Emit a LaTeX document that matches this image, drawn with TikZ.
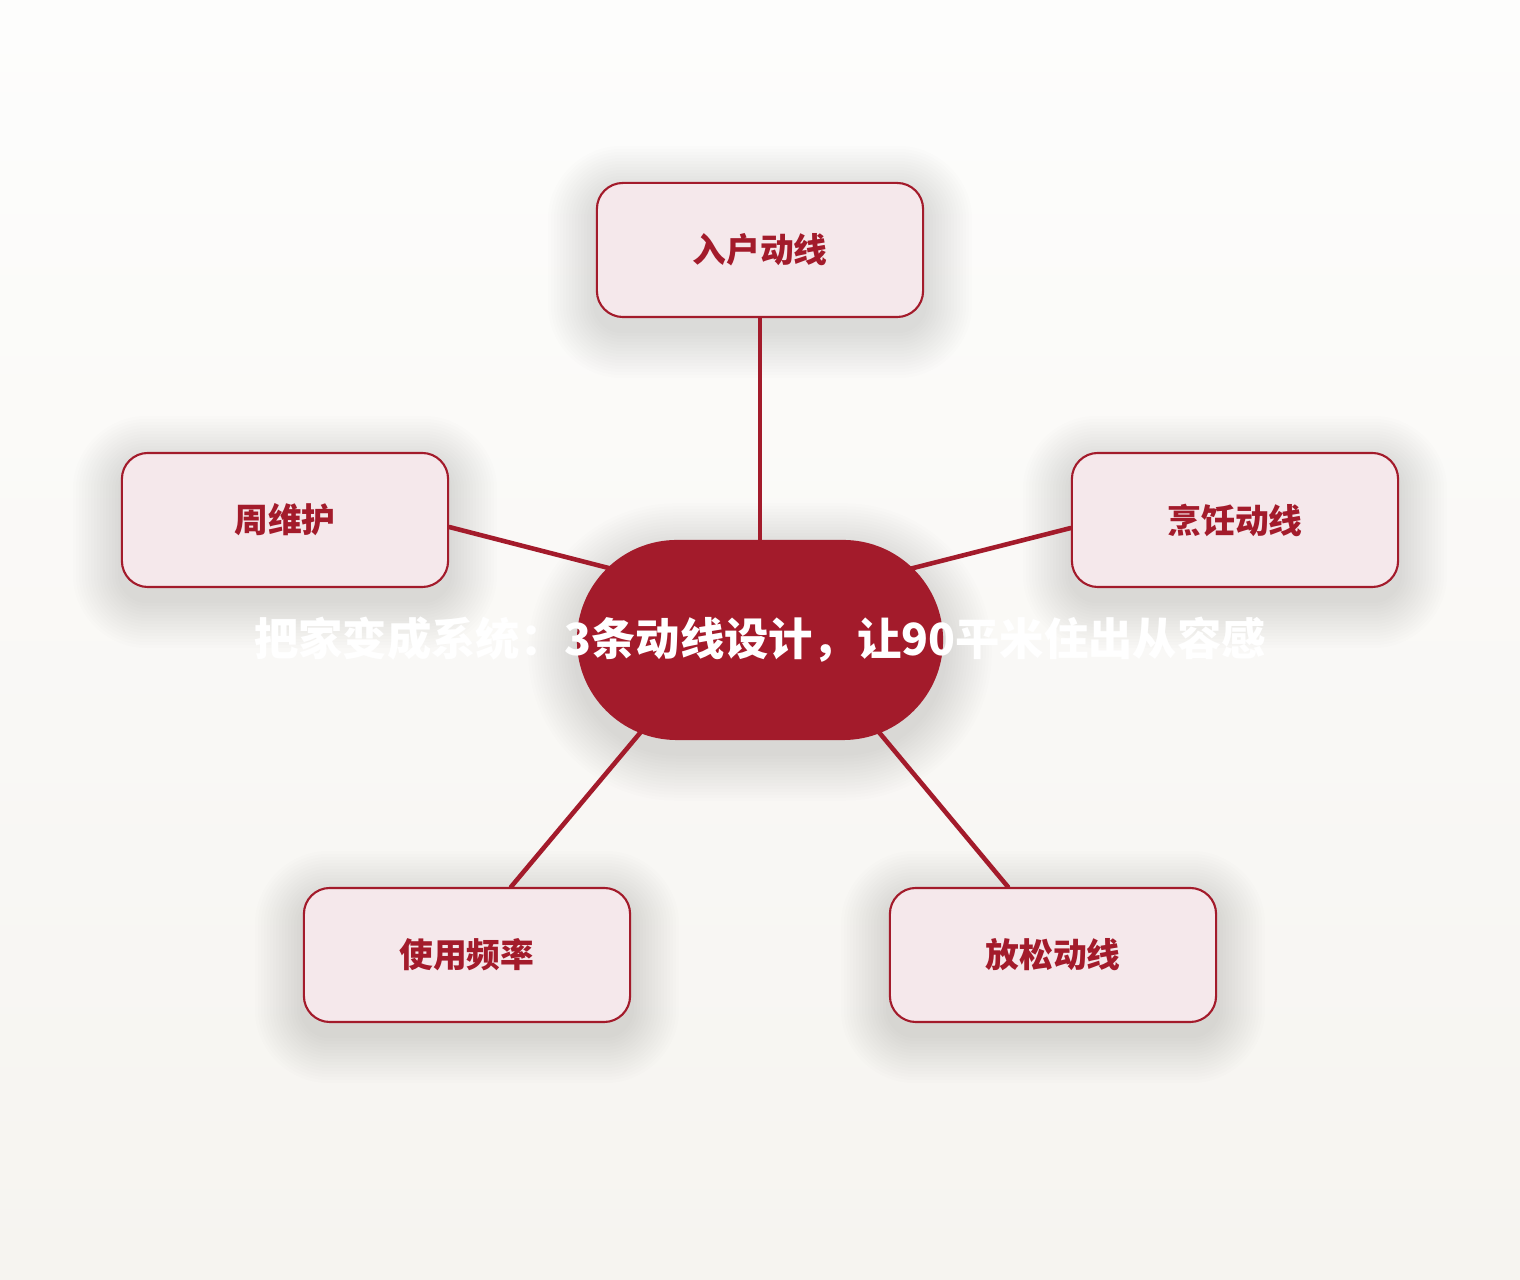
\documentclass[tikz,border=0pt]{standalone}
\usepackage{fontspec}
\newfontfamily\cjk{Noto Sans CJK SC}
\definecolor{rosso}{HTML}{A31B2B}
\definecolor{rosa}{HTML}{F5E8EB}
\definecolor{sfondoA}{HTML}{FDFDFC}
\definecolor{sfondoB}{HTML}{F6F4F0}
\pgfdeclarelayer{sfondo}
\pgfdeclarelayer{ombre}
\pgfdeclarelayer{linee}
\pgfsetlayers{sfondo,ombre,linee,main}
\tikzset{
  box/.style={draw=rosso, line width=0.6pt, fill=rosa, rounded corners=0.26cm, minimum width=3.26cm, minimum height=1.34cm, inner sep=0pt, text=rosso, font=\cjk\bfseries\fontsize{9.6}{11}\selectfont},
  hub/.style={fill=rosso, rounded corners=1cm, minimum width=3.66cm, minimum height=2cm, inner sep=0pt, text=white, font=\cjk\bfseries\fontsize{12.6}{15}\selectfont},
  link/.style={rosso, line width=1.3pt, line cap=round},
  velo/.style={black, opacity=0.0065}
}
% ombra morbida sotto un nodo: #1 nome, #2 raggio (cm)
\newcommand\ombra[2]{%
  \begin{pgfonlayer}{ombre}
    \foreach \k [evaluate=\k as \r using #2+\k*0.03] in {1,...,16}
      \fill[velo, rounded corners=\r cm] ([shift={(-\k*0.03cm,\k*0.03cm-0.12cm)}]#1.north west) rectangle ([shift={(\k*0.03cm,-\k*0.03cm-0.12cm)}]#1.south east);
  \end{pgfonlayer}}
\begin{document}
\begin{tikzpicture}[x=0.01cm,y=-0.01cm]
  %sfondo
  \begin{pgfonlayer}{sfondo}
    \shade[top color=sfondoA, bottom color=sfondoB] (0,0) rectangle (1520,1280);
  \end{pgfonlayer}
  %nodi
  \node[box] (ingresso) at (760,250) {入户动线};
  \node[box] (manut) at (285,520) {周维护};
  \node[box] (cucina) at (1235,520) {烹饪动线};
  \node[box] (uso) at (467,955) {使用频率};
  \node[box] (relax) at (1053,955) {放松动线};
  \node[hub] (ctr) at (760,640) {\makebox[0pt]{把家变成系统：3条动线设计，让90平米住出从容感}};
  %ombre
  \ombra{ingresso}{0.26}
  \ombra{manut}{0.26}
  \ombra{cucina}{0.26}
  \ombra{uso}{0.26}
  \ombra{relax}{0.26}
  \ombra{ctr}{1}
  %linee
  \begin{pgfonlayer}{linee}
    \draw[link] (ingresso.south) -- (ctr.center);
    \draw[link] ([yshift=-0.07cm]manut.east) -- ([yshift=0.33cm]ctr.center);
    \draw[link] ([yshift=-0.08cm]cucina.west) -- ([yshift=0.33cm]ctr.center);
    \draw[link] ([xshift=0.44cm]uso.north) -- ([xshift=-0.42cm]ctr.center);
    \draw[link] ([xshift=-0.45cm]relax.north) -- ([xshift=0.42cm]ctr.center);
  \end{pgfonlayer}
\end{tikzpicture}
\end{document}
